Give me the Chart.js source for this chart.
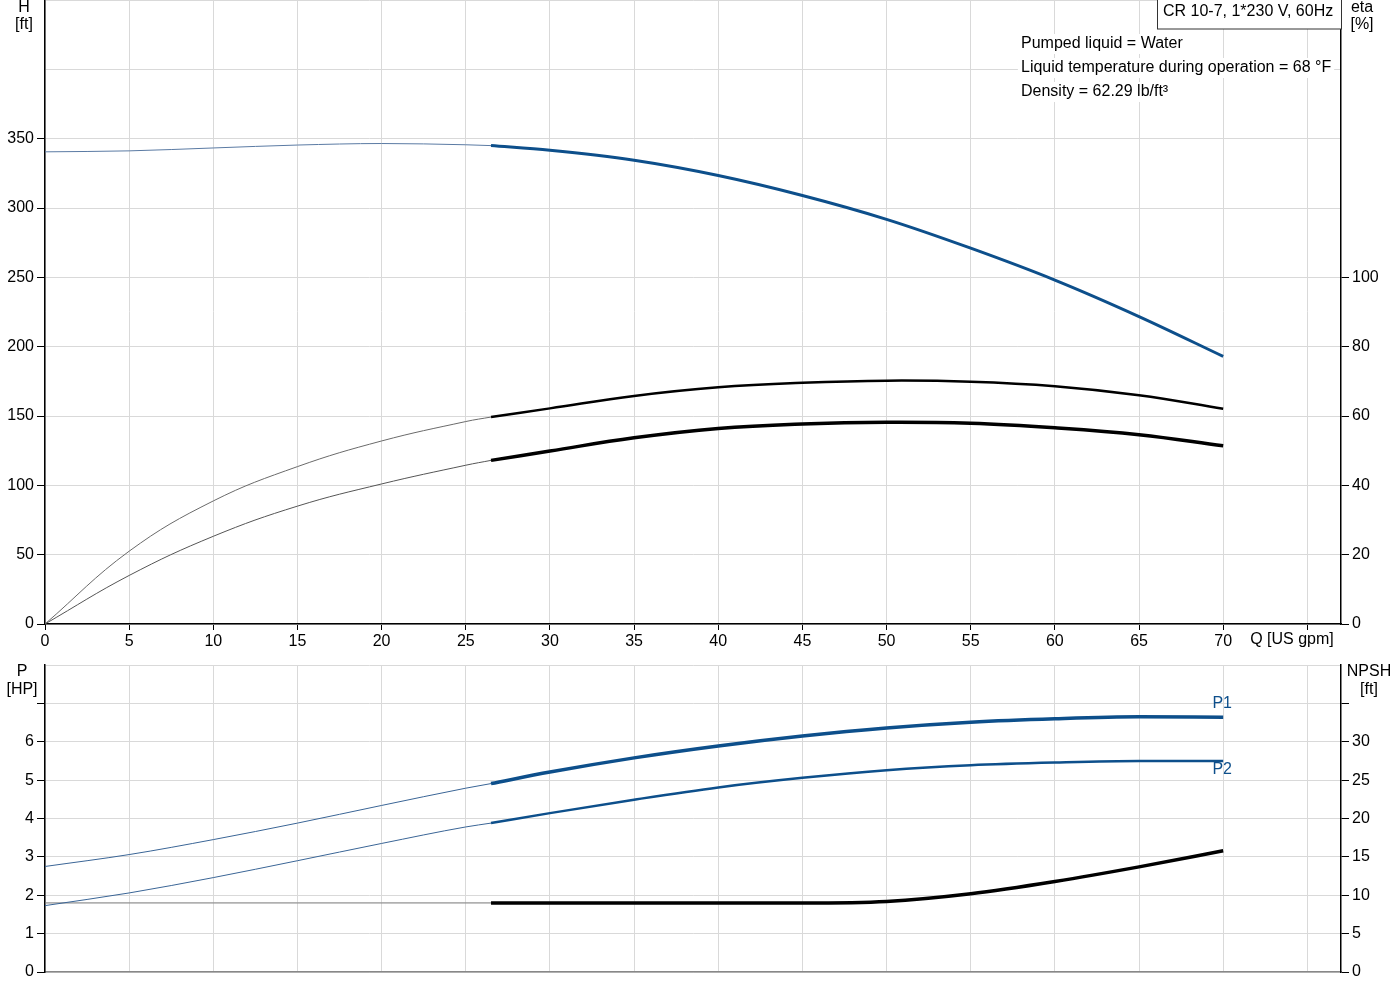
<!DOCTYPE html>
<html>
<head>
<meta charset="utf-8">
<title>CR 10-7 pump curve</title>
<script src="https://cdn.jsdelivr.net/npm/chart.js@4.4.1/dist/chart.umd.min.js"></script>
<style>
  body { margin: 0; background: #fff; }
  #wrap { position: relative; width: 1400px; height: 1000px; }
  #topChart { position: absolute; left: 0; top: 0; }
  #bottomChart { position: absolute; left: 0; top: 655px; }
</style>
</head>
<body>
<div id="wrap">
  <canvas id="topChart" width="1400" height="655"></canvas>
  <canvas id="bottomChart" width="1400" height="345"></canvas>
</div>
<script>
// flow points, US gpm. thin part = outside the recommended range
var flowThin = [0, 5, 10, 15, 20, 25, 26.5];
var flowDuty = [26.5, 30, 35, 40, 45, 50, 55, 60, 65, 70];
var flowTicks = [0, 5, 10, 15, 20, 25, 30, 35, 40, 45, 50, 55, 60, 65, 70, 75];

// head, ft
var headThin = [340.5, 341.2, 343.3, 345.4, 346.5, 345.6, 345.0];
var headDuty = [345.0, 341.6, 334.4, 323.4, 309.0, 291.8, 271.0, 248.0, 221.7, 193.0];

// efficiencies, %
var etaUpperThin = [0, 21.0, 35.5, 45.4, 52.8, 58.4, 59.7];
var etaUpperDuty = [59.7, 62.2, 65.8, 68.3, 69.6, 70.2, 69.9, 68.6, 66.0, 62.1];
var etaLowerThin = [0, 14.0, 25.3, 34.0, 40.4, 45.8, 47.2];
var etaLowerDuty = [47.2, 49.9, 53.7, 56.4, 57.7, 58.2, 57.9, 56.6, 54.6, 51.4];

// power, HP
var p1Thin = [2.75, 3.06, 3.45, 3.88, 4.34, 4.79, 4.91];
var p1Duty = [4.91, 5.21, 5.58, 5.89, 6.15, 6.36, 6.51, 6.60, 6.65, 6.64];
var p2Thin = [1.73, 2.06, 2.46, 2.90, 3.35, 3.78, 3.88];
var p2Duty = [3.88, 4.14, 4.49, 4.81, 5.06, 5.26, 5.39, 5.46, 5.50, 5.50];

// NPSH, ft
var npshThin = [9.0, 9.0, 9.0, 9.0, 9.0, 9.0, 9.0];
var npshDuty = [9.0, 9.0, 9.0, 9.0, 9.0, 9.2, 10.2, 11.8, 13.7, 15.8];

var infoLines = [
  "Pumped liquid = Water",
  "Liquid temperature during operation = 68 °F",
  "Density = 62.29 lb/ft³"
];
var pumpName = "CR 10-7, 1*230 V, 60Hz";

var BLUE = "#0d4f8b";
var GRID = "#d9d9d9";
var FONT = "'Liberation Sans', Arial, sans-serif";

Chart.defaults.font.family = FONT;
Chart.defaults.font.size = 16;
Chart.defaults.color = "#000";

function pts(xs, ys) {
  return xs.map(function (x, i) { return { x: x, y: ys[i] }; });
}

function line(xs, ys, axis, color, width, smooth) {
  return {
    data: pts(xs, ys),
    yAxisID: axis,
    borderColor: color,
    borderWidth: width,
    pointRadius: 0,
    fill: false,
    tension: 0.4,
    cubicInterpolationMode: smooth ? "default" : "monotone"
  };
}

function hideAbove(limit) {
  return function (c) {
    return c.tick && c.tick.value > limit ? "rgba(0,0,0,0)" : "#000";
  };
}

// fixed axis sizes so the plot areas line up with the reference
function fixSize(w, h) {
  return function (s) {
    if (w !== null) s.width = w;
    if (h !== null) s.height = h;
    s.paddingTop = 0;
    s.paddingBottom = 0;
    s.paddingLeft = 0;
    s.paddingRight = 0;
  };
}

function text(ctx, str, x, y, align, color) {
  ctx.fillStyle = color || "#000";
  ctx.textAlign = align || "center";
  ctx.textBaseline = "middle";
  ctx.fillText(str, x, y);
}

var topLabels = {
  id: "topLabels",
  afterDraw: function (chart) {
    var ctx = chart.ctx;
    var area = chart.chartArea;
    ctx.save();
    ctx.font = "16px " + FONT;
    text(ctx, "H", 24, 8);
    text(ctx, "[ft]", 24, 25);
    text(ctx, "eta", 1362, 8);
    text(ctx, "[%]", 1362, 25);
    text(ctx, "Q [US gpm]", 1292, 640);

    // pump name box
    ctx.fillStyle = "#fff";
    ctx.fillRect(1157, 0, area.right - 1157, 29);
    ctx.strokeStyle = "#333";
    ctx.lineWidth = 1;
    ctx.strokeRect(1157.5, -1, area.right - 1157, 30);
    text(ctx, pumpName, 1163, 12, "left");

    infoLines.forEach(function (s, i) {
      var y = 44 + i * 24;
      var w = ctx.measureText(s).width;
      ctx.fillStyle = "#fff";
      ctx.fillRect(1018, y - 10, w + 6, 20);
      text(ctx, s, 1021, y, "left");
    });
    ctx.restore();
  }
};

var bottomLabels = {
  id: "bottomLabels",
  afterDraw: function (chart) {
    var ctx = chart.ctx;
    var xs = chart.scales.x;
    var yp = chart.scales.yP;
    ctx.save();
    ctx.font = "16px " + FONT;
    text(ctx, "P", 22, 17);
    text(ctx, "[HP]", 22, 35);
    text(ctx, "NPSH", 1369, 17);
    text(ctx, "[ft]", 1369, 35);
    var xe = xs.getPixelForValue(flowDuty[flowDuty.length - 1]);
    text(ctx, "P1", xe - 1, yp.getPixelForValue(p1Duty[p1Duty.length - 1]) - 14, "center", BLUE);
    text(ctx, "P2", xe - 1, yp.getPixelForValue(p2Duty[p2Duty.length - 1]) + 9, "center", BLUE);
    ctx.restore();
  }
};

function xScale(showLabels, borderColor) {
  return {
    type: "linear",
    min: 0,
    max: 77,
    afterBuildTicks: function (s) { s.ticks = flowTicks.map(function (v) { return { value: v }; }); },
    afterFit: fixSize(null, showLabels ? 31 : 28),
    grid: { color: GRID, drawTicks: showLabels, tickLength: 6, tickColor: "#000" },
    border: { color: borderColor, width: 1.5 },
    ticks: {
      display: showLabels,
      padding: 2,
      maxRotation: 0,
      autoSkip: false,
      callback: function (v) { return v > 70 ? "" : v; }
    }
  };
}

new Chart(document.getElementById("topChart").getContext("2d"), {
  type: "line",
  data: {
    datasets: [
      line(flowThin, headThin, "yH", "#5a7aa3", 1),
      line(flowDuty, headDuty, "yH", BLUE, 3),
      line(flowThin, etaUpperThin, "yEta", "#6a6a6a", 1, true),
      line(flowDuty, etaUpperDuty, "yEta", "#000", 2.5, true),
      line(flowThin, etaLowerThin, "yEta", "#555", 1, true),
      line(flowDuty, etaLowerDuty, "yEta", "#000", 3.5, true)
    ]
  },
  options: {
    responsive: false,
    animation: false,
    layout: { padding: 0 },
    plugins: { legend: { display: false }, tooltip: { enabled: false } },
    scales: {
      x: xScale(true, "#000"),
      yH: {
        position: "left",
        min: 0,
        max: 450,
        afterFit: fixSize(45, null),
        ticks: { stepSize: 50, padding: 3, callback: function (v) { return v > 350 ? "" : v; } },
        grid: { color: GRID, tickLength: 8, tickColor: hideAbove(350) },
        border: { color: "#000", width: 1.5 }
      },
      yEta: {
        position: "right",
        min: 0,
        max: 180,
        afterFit: fixSize(59, null),
        ticks: { stepSize: 20, padding: 3, callback: function (v) { return v > 100 ? "" : v; } },
        grid: { drawOnChartArea: false, tickLength: 8, tickColor: hideAbove(100) },
        border: { color: "#000", width: 1.5 }
      }
    }
  },
  plugins: [topLabels]
});

new Chart(document.getElementById("bottomChart").getContext("2d"), {
  type: "line",
  data: {
    datasets: [
      line(flowThin, p1Thin, "yP", "#3a6596", 1),
      line(flowDuty, p1Duty, "yP", BLUE, 3.5),
      line(flowThin, p2Thin, "yP", "#3a6596", 1),
      line(flowDuty, p2Duty, "yP", BLUE, 2.5),
      line(flowThin, npshThin, "yN", "#777", 1),
      line(flowDuty, npshDuty, "yN", "#000", 3.5)
    ]
  },
  options: {
    responsive: false,
    animation: false,
    layout: { padding: { top: 10 } },
    plugins: { legend: { display: false }, tooltip: { enabled: false } },
    scales: {
      x: xScale(false, "#888"),
      yP: {
        position: "left",
        min: 0,
        max: 8,
        afterFit: fixSize(45, null),
        ticks: { stepSize: 1, padding: 3, callback: function (v) { return v > 6 ? "" : v; } },
        grid: { color: GRID, tickLength: 8, tickColor: hideAbove(7) },
        border: { color: "#000", width: 1.5 }
      },
      yN: {
        position: "right",
        min: 0,
        max: 40,
        afterFit: fixSize(59, null),
        ticks: { stepSize: 5, padding: 3, callback: function (v) { return v > 30 ? "" : v; } },
        grid: { drawOnChartArea: false, tickLength: 8, tickColor: hideAbove(35) },
        border: { color: "#000", width: 1.5 }
      }
    }
  },
  plugins: [bottomLabels]
});
</script>
</body>
</html>
